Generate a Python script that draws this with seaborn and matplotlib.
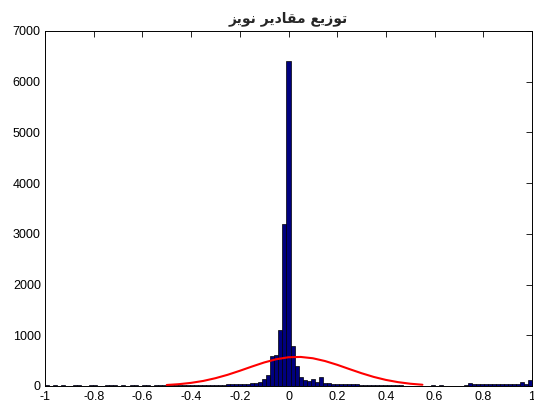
import numpy as np
import pandas as pd
import matplotlib
matplotlib.use("Agg")
import matplotlib.pyplot as plt
import seaborn as sns

# Histogram counts, 121 bins spanning [-1, 1]
counts_left_tail = [15, 0, 10, 0, 12, 8, 0, 10, 15, 0, 0, 12, 10, 8, 0,
                    15, 10, 12, 8, 10, 0, 10, 12, 0, 10, 15, 8, 10, 12, 10]
counts_left_mid = [10, 12, 15, 10, 12, 15, 18, 15, 20, 18, 20, 22, 25, 22, 28, 30, 32, 32]
counts_left_near = [35, 40, 45, 55, 60, 80, 130, 220]
counts_center = [600, 610, 1100, 3200, 6400, 780, 400, 170, 120, 100, 130, 80, 180, 60, 50]
counts_right_mid = [45, 40, 40, 35, 30, 35, 30, 25, 25, 20, 20, 18, 15, 15, 12, 12, 10, 10, 8, 8]
counts_right_gap = [5, 0, 8, 0, 5, 12, 0, 10, 5, 0, 8, 5, 0, 10]
counts_right_tail = [60, 35, 40, 45, 35, 35, 40, 35, 35, 40, 35, 45, 40, 70, 45, 120]

counts = np.array(counts_left_tail + counts_left_mid + counts_left_near + counts_center
                  + counts_right_mid + counts_right_gap + counts_right_tail, dtype=float)

# Fitted normal curve
curve_x = [-0.50, -0.45, -0.40, -0.35, -0.30, -0.25, -0.20, -0.15, -0.10, -0.05, 0.00,
           0.05, 0.10, 0.15, 0.20, 0.25, 0.30, 0.35, 0.40, 0.45, 0.50, 0.55]
curve_y = [20, 36, 62, 100, 154, 221, 300, 384, 464, 528, 567,
           573, 547, 492, 418, 334, 252, 179, 120, 76, 45, 25]

x_ticks = [-1, -0.8, -0.6, -0.4, -0.2, 0, 0.2, 0.4, 0.6, 0.8, 1]
x_tick_labels = ["-1", "-0.8", "-0.6", "-0.4", "-0.2", "0", "0.2", "0.4", "0.6", "0.8", "1"]
y_ticks = [0, 1000, 2000, 3000, 4000, 5000, 6000, 7000]

# Title (Persian: "توزیع مقادیر نویز"), written in shaped visual order
title_text = "\uFEB0\uFEF3\uFEEE\uFEE7 \uFEAE\uFEF3\uFEA9\uFE8E\uFED8\uFEE3 \uFECA\uFEF3\uFEAF\uFEEE\uFE97"

edges = np.linspace(-1, 1, len(counts) + 1)
centers = (edges[:-1] + edges[1:]) / 2
df = pd.DataFrame({"value": centers, "count": counts})

sns.set_style("white")
plt.rcParams["font.family"] = ["Liberation Sans", "DejaVu Sans"]

fig = plt.figure(figsize=(5.34, 4.04), dpi=100)
ax = fig.add_axes([45 / 534, 18 / 404, (532 - 45) / 534, (386 - 31) / 404])

sns.histplot(data=df, x="value", weights="count", bins=edges.tolist(), ax=ax,
             color="#00007F", edgecolor="black", linewidth=0.5, alpha=1.0)
sns.lineplot(x=curve_x, y=curve_y, ax=ax, color="red", linewidth=1.5)

ax.set_xlim(-1, 1)
ax.set_ylim(0, 7000)
ax.set_xticks(x_ticks)
ax.set_xticklabels(x_tick_labels)
ax.set_yticks(y_ticks)
ax.set_xlabel("")
ax.set_ylabel("")
ax.tick_params(direction="in", top=True, right=True, length=4, width=0.6,
               labelsize=9, colors="black")
ax.tick_params(axis="x", pad=3.5)
ax.tick_params(axis="y", pad=3)
for s in ax.spines.values():
    s.set_visible(True)
    s.set_color("black")
    s.set_linewidth(0.7)

ax.set_title(title_text, fontsize=10, fontweight="bold", family=["DejaVu Sans"], pad=6)

fig.savefig("out.png", dpi=100)
